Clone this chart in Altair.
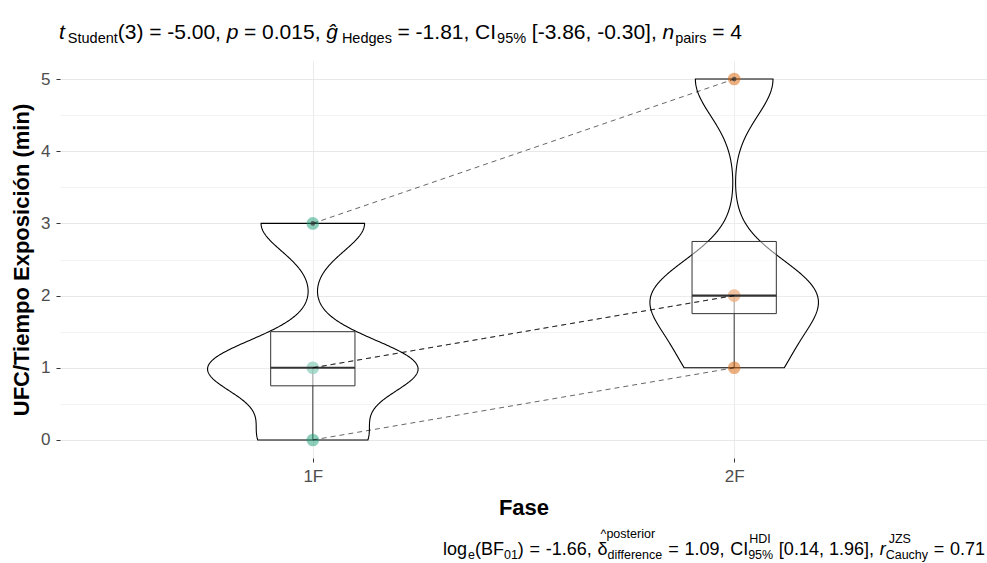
import altair as alt
import pandas as pd
import numpy as np

# ---------------- data ----------------
fases = ["1F", "2F"]
pares = [1, 2, 3, 4]
valores_1F = [3, 1, 1, 0]
valores_2F = [5, 2, 2, 1]
colores = ["#1B9E77", "#D95F02"]

rows = []
for f, vals in zip(fases, [valores_1F, valores_2F]):
    for p, v in zip(pares, vals):
        rows.append({"Fase": f, "par": p, "valor": v})
df = pd.DataFrame(rows)

FONT = "Liberation Sans"
POS_EXPR = "indexof(['1F','2F'], datum.Fase) + 1"
VIOLIN_K = 0.47  # half-width (x units) per unit of density (ggplot scale='area', width 0.5)
BOX_HALF = 0.1


def bw_nrd0(x):
    x = np.asarray(x, float)
    sd = x.std(ddof=1)
    q75, q25 = np.percentile(x, [75, 25])
    lo = min(sd, (q75 - q25) / 1.34)
    return float(0.9 * lo * len(x) ** (-0.2))


xscale = alt.Scale(domain=[0.4, 2.6], nice=False, zero=False)
yscale = alt.Scale(domain=[-0.25, 5.25], nice=False, zero=False)

xaxis = alt.Axis(
    values=[1, 2], labelExpr="datum.value == 1 ? '1F' : '2F'",
    title="Fase", titleFontSize=22, titleFontWeight="bold", titleColor="black",
    titleFont=FONT, titleBaseline="alphabetic", titleY=56,
    labelFont=FONT, labelFontSize=17, labelColor="#4D4D4D", labelPadding=6,
    tickColor="#333333", tickSize=4, domain=False,
    grid=True, gridColor="#EBEBEB", gridWidth=1.1,
)
yaxis = alt.Axis(
    values=[0, 0.5, 1, 1.5, 2, 2.5, 3, 3.5, 4, 4.5, 5],
    labelExpr="datum.value % 1 === 0 ? format(datum.value, 'd') : ''",
    title="UFC/Tiempo Exposición (min)", titleFontSize=22, titleFontWeight="bold",
    titleColor="black", titleFont=FONT, titleX=-39, titleY=198.5,
    titleAlign="center", titleBaseline="middle", titleAngle=270,
    labelFont=FONT, labelFontSize=17, labelColor="#4D4D4D", labelPadding=6,
    tickColor={"condition": {"test": "datum.value % 1 !== 0", "value": "transparent"}, "value": "#333333"},
    tickSize=4, domain=False, grid=True,
    gridColor={"condition": {"test": "datum.value % 1 !== 0", "value": "#F0F0F0"}, "value": "#E8E8E8"},
    gridWidth={"condition": {"test": "datum.value % 1 !== 0", "value": 0.9}, "value": 1.2},
)


def X(field):
    return alt.X(field, type="quantitative", scale=xscale, axis=xaxis)


def Y(field):
    return alt.Y(field, type="quantitative", scale=yscale, axis=yaxis)


# ---------------- violins ----------------
def violin(f, vals):
    return (
        alt.Chart(df)
        .transform_filter(alt.datum.Fase == f)
        .transform_density("valor", as_=["valor", "density"], bandwidth=bw_nrd0(vals),
                           extent=[min(vals), max(vals)], steps=256, groupby=["Fase"])
        .transform_calculate(pos=POS_EXPR)
        .transform_calculate(xl=f"datum.pos - datum.density*{VIOLIN_K}",
                             xr=f"datum.pos + datum.density*{VIOLIN_K}")
        .mark_area(orient="horizontal", fill="white", fillOpacity=0.2,
                   stroke="black", strokeWidth=1.1)
        .encode(y=Y("valor"), x=X("xl"), x2="xr:Q")
    )


violins = [violin(f, v) for f, v in zip(fases, [valores_1F, valores_2F])]

# ---------------- box stats ----------------
box_base = (
    alt.Chart(df)
    .transform_joinaggregate(q1="q1(valor)", q3="q3(valor)", mediana="median(valor)", groupby=["Fase"])
    .transform_calculate(lo="datum.q1 - 1.5*(datum.q3 - datum.q1)",
                         hi="datum.q3 + 1.5*(datum.q3 - datum.q1)")
    .transform_calculate(pos=POS_EXPR)
)

whiskers = (
    box_base.transform_filter("datum.valor >= datum.lo && datum.valor <= datum.hi")
    .transform_aggregate(wmin="min(valor)", wmax="max(valor)", groupby=["Fase", "pos"])
    .mark_rule(color="#333333", strokeWidth=1)
    .encode(x=X("pos"), y=Y("wmin"), y2="wmax:Q")
)

box_stats = (
    box_base.transform_aggregate(q1="max(q1)", q3="max(q3)", med="max(mediana)", groupby=["Fase", "pos"])
    .transform_calculate(bl=f"datum.pos - {BOX_HALF}", br=f"datum.pos + {BOX_HALF}")
)
boxes = box_stats.mark_rect(fill="white", fillOpacity=0.5, stroke="#333333", strokeWidth=1).encode(
    x=X("bl"), x2="br:Q", y=Y("q1"), y2="q3:Q")
medians = box_stats.mark_rule(color="#333333", strokeWidth=2.2).encode(
    x=X("bl"), x2="br:Q", y=Y("med"))

outliers = (
    box_base.transform_filter("datum.valor < datum.lo || datum.valor > datum.hi")
    .mark_circle(color="#333333", size=22, opacity=0.7)
    .encode(x=X("pos"), y=Y("valor"))
)

points = (
    alt.Chart(df).transform_calculate(pos=POS_EXPR)
    .mark_circle(size=160, opacity=0.5)
    .encode(x=X("pos"), y=Y("valor"),
            color=alt.Color("Fase:N", scale=alt.Scale(domain=fases, range=colores), legend=None))
)

paths = (
    alt.Chart(df).transform_calculate(pos=POS_EXPR)
    .mark_line(color="black", opacity=0.6, strokeDash=[5, 4], strokeWidth=1)
    .encode(x=X("pos"), y=Y("valor"), detail="par:N", order="pos:Q")
)

# ---------------- annotation text (plotmath-like flow) ----------------
W = {' ': 278, '(': 333, ')': 333, '=': 584, '-': 333, '.': 278, ',': 278, '[': 278, ']': 278,
     '%': 889, '^': 469, 'C': 722, 'I': 278, 'S': 667, 'H': 722, 'D': 722, 'J': 500, 'Z': 611,
     'B': 667, 'F': 611, 't': 278, 'p': 556, 'g': 556, 'n': 556, 'u': 556, 'd': 556, 'e': 556,
     's': 500, 'a': 556, 'i': 222, 'r': 333, 'l': 222, 'o': 556, 'f': 278, 'c': 500, 'y': 500,
     'h': 556, 'ĝ': 556, 'δ': 556}


def tw(s, size):
    return sum(W.get(ch, 556) for ch in s) * size / 1000.0


def T(s, role="main"):
    return ("text", s, role)


def G(px):
    return ("gap", px)


def STK(sup, sub, sup_dx=0.0, sup_role="sup"):
    return ("stack", sup, sub, sup_dx, sup_role)


SPACE_UNIT = ("unit",)


def layout(items, x0, x1, main, small, base, sub_base, sup_bases):
    """Flow pieces from x0; spacing units stretched so the line ends at x1."""
    fixed, n_units = 0.0, 0
    for it in items:
        if it[0] == "text":
            fixed += tw(it[1], main if it[2] in ("main", "ital") else small)
        elif it[0] == "gap":
            fixed += it[1]
        elif it[0] == "stack":
            fixed += max(tw(it[1], small), tw(it[2], small))
        else:
            n_units += 1
    unit = (x1 - x0 - fixed) / max(n_units, 1)
    out, x = [], x0
    for it in items:
        if it[0] == "text":
            s, role = it[1], it[2]
            if role in ("main", "ital"):
                out.append((s, x, base, main, "italic" if role == "ital" else "normal"))
                x += tw(s, main)
            else:
                out.append((s, x, sub_base, small, "normal"))
                x += tw(s, small)
        elif it[0] == "gap":
            x += it[1]
        elif it[0] == "stack":
            sup, sub, dx, srole = it[1], it[2], it[3], it[4]
            out.append((sup, x + dx, sup_bases[srole], small, "normal"))
            out.append((sub, x, sub_base, small, "normal"))
            x += max(tw(sup, small), tw(sub, small))
        else:
            x += unit
    return out


U = SPACE_UNIT
EQ = [U, T("="), U]
title_items = (
    [T("t", "ital"), G(3), T("Student", "sub"), T("(3)")] + EQ + [T("-5.00,"), U,
     T("p", "ital")] + EQ + [T("0.015,"), U,
     T("ĝ", "ital"), G(4), T("Hedges", "sub")] + EQ + [T("-1.81,"), U,
     T("CI"), G(1), T("95%", "sub"), U, T("[-3.86, -0.30],"), U,
     T("n", "ital"), G(1), T("pairs", "sub")] + EQ + [T("4")]
)
caption_items = (
    [T("log"), G(1), T("e", "sub"), T("(BF"), T("01", "sub"), T(")")] + EQ + [T("-1.66,"), U,
     T("δ"), STK("^posterior", "difference", -7, "sup_hi")] + EQ + [T("1.09,"), U,
     T("CI"), STK("HDI", "95%", 1), U, T("[0.14, 1.96],"), U,
     T("r", "ital"), STK("JZS", "Cauchy", 3)] + EQ + [T("0.71")]
)

title_parts = layout(title_items, 59, 742, 21, 14.5, 39, 42.5, {})
caption_parts = layout(caption_items, 443, 985, 18, 12.5, 555, 559, {"sup": 543, "sup_hi": 538})


def txt(s, x, y, size, style="normal"):
    return alt.Chart(alt.Data(values=[{}])).mark_text(
        text=s, align="left", baseline="alphabetic", fontSize=size, fontStyle=style,
        font=FONT, color="black"
    ).encode(x=alt.value(x - 60), y=alt.value(y - 61))


texts = [txt(*p) for p in title_parts + caption_parts]

chart = alt.layer(
    *violins, whiskers, points, boxes, medians, paths, outliers, *texts
).properties(
    width=927, height=397,
    autosize=alt.AutoSizeParams(type="none"),
    padding={"left": 60, "top": 61, "right": 0, "bottom": 105},
    background="white",
).configure_view(stroke=None)

chart.save("out.html", embed_options={"renderer": "svg", "actions": False})
